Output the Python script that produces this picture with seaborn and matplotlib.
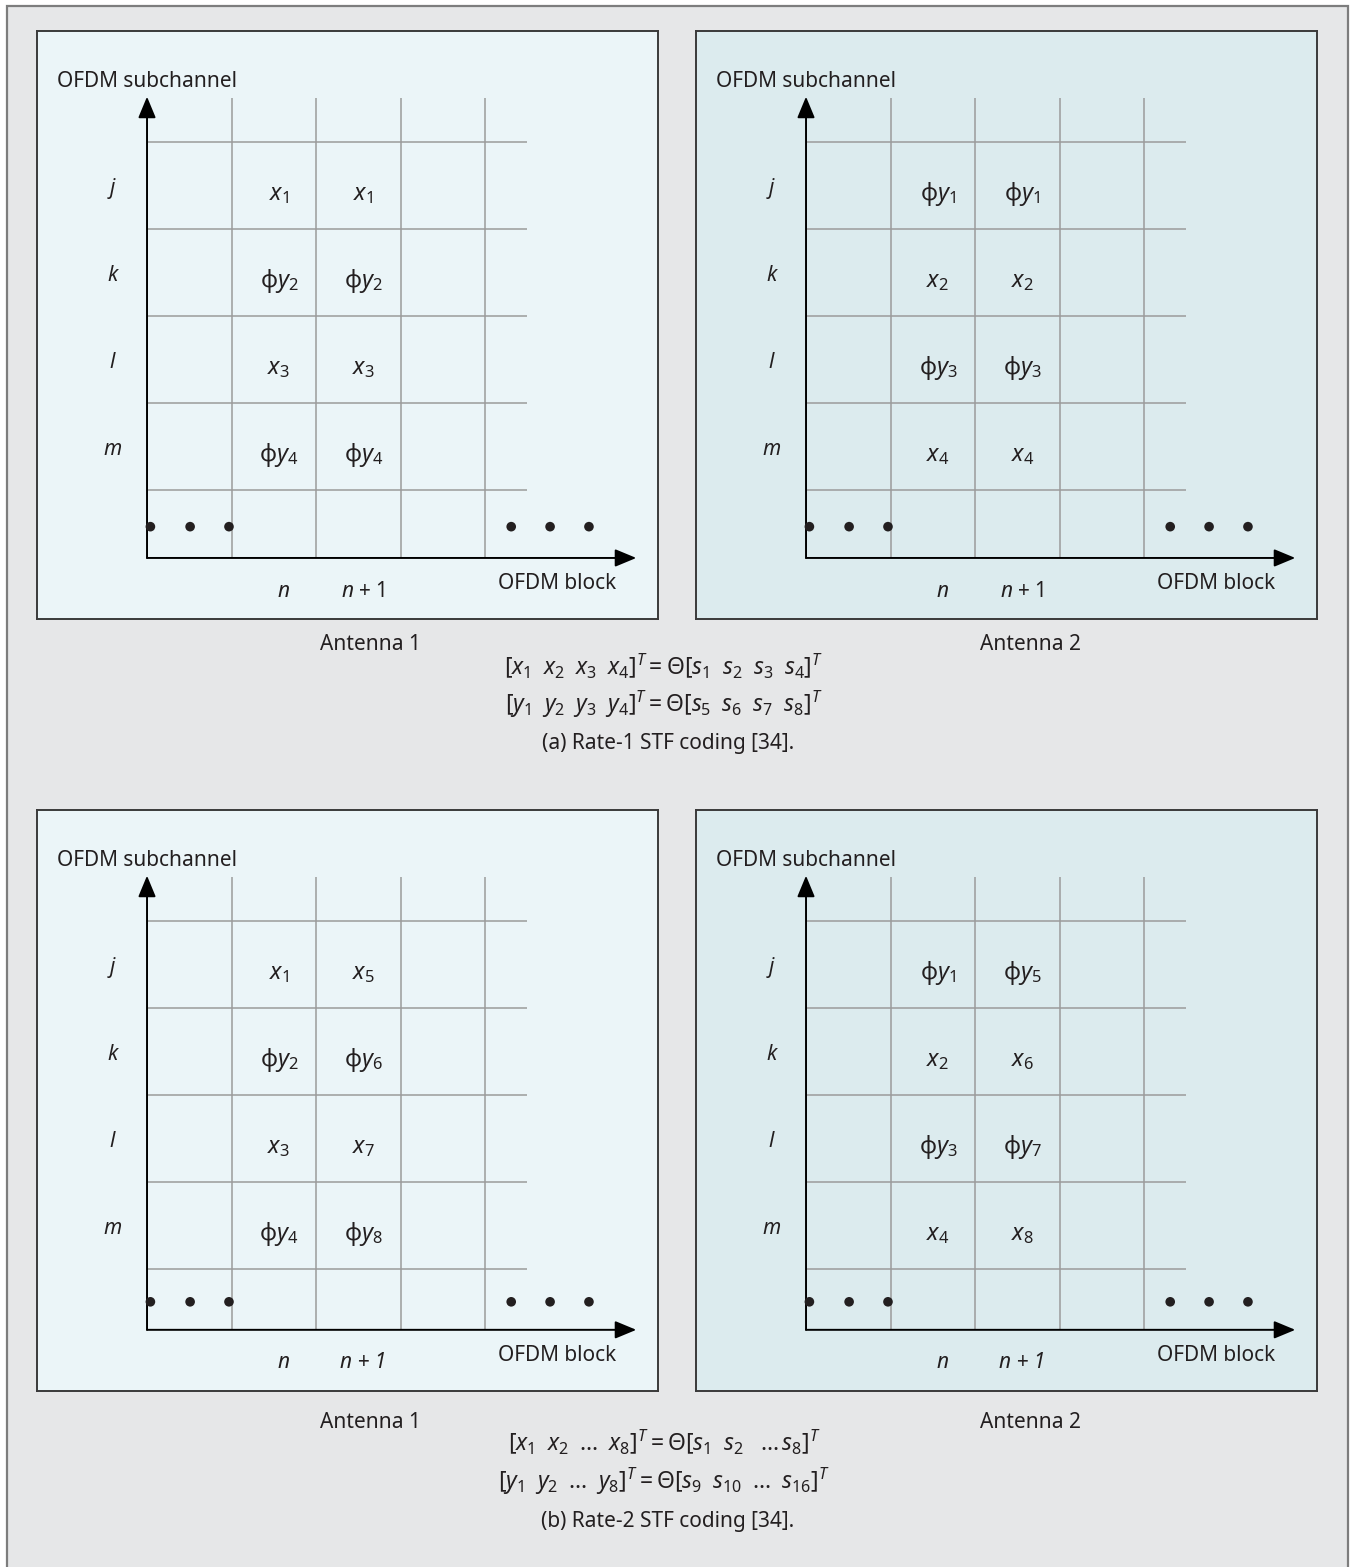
import numpy as np
import pandas as pd
import matplotlib
matplotlib.use('Agg')
import matplotlib.pyplot as plt
from matplotlib.patches import Rectangle
import seaborn as sns

sns.set_theme(style='white')
plt.rcParams['font.family'] = ['Noto Sans', 'DejaVu Sans']
plt.rcParams['mathtext.fontset'] = 'custom'
plt.rcParams['mathtext.rm'] = 'Noto Sans'
plt.rcParams['mathtext.it'] = 'Noto Sans:italic'
plt.rcParams['mathtext.bf'] = 'Noto Sans:bold'

# chart content
row_labels = ['j', 'k', 'l', 'm']
block_labels_a = ['$n$', '$n$ + 1']
block_labels_b = ['n', 'n + 1']

a_ant1_n = [r'$x_1$', r'$\mathrm{\phi}y_2$', r'$x_3$', r'$\mathrm{\phi}y_4$']
a_ant1_n1 = [r'$x_1$', r'$\mathrm{\phi}y_2$', r'$x_3$', r'$\mathrm{\phi}y_4$']
a_ant2_n = [r'$\mathrm{\phi}y_1$', r'$x_2$', r'$\mathrm{\phi}y_3$', r'$x_4$']
a_ant2_n1 = [r'$\mathrm{\phi}y_1$', r'$x_2$', r'$\mathrm{\phi}y_3$', r'$x_4$']

b_ant1_n = [r'$x_1$', r'$\mathrm{\phi}y_2$', r'$x_3$', r'$\mathrm{\phi}y_4$']
b_ant1_n1 = [r'$x_5$', r'$\mathrm{\phi}y_6$', r'$x_7$', r'$\mathrm{\phi}y_8$']
b_ant2_n = [r'$\mathrm{\phi}y_1$', r'$x_2$', r'$\mathrm{\phi}y_3$', r'$x_4$']
b_ant2_n1 = [r'$\mathrm{\phi}y_5$', r'$x_6$', r'$\mathrm{\phi}y_7$', r'$x_8$']

eq_a = [r'$[x_1\;\;x_2\;\;x_3\;\;x_4]^T = \Theta[s_1\;\;s_2\;\;s_3\;\;s_4]^T$',
        r'$[y_1\;\;y_2\;\;y_3\;\;y_4]^T = \Theta[s_5\;\;s_6\;\;s_7\;\;s_8]^T$']
eq_b = [r'$[x_1\;\;x_2\;\;\ldots\;\;x_8]^T = \Theta[s_1\;\;s_2\;\;\;\ldots\,s_8]^T$',
        r'$[y_1\;\;y_2\;\;\ldots\;\;y_8]^T = \Theta[s_9\;\;s_{10}\;\;\ldots\;\;s_{16}]^T$']
caption_a = '(a) Rate-1 STF coding [34].'
caption_b = '(b) Rate-2 STF coding [34].'
antennas = ['Antenna 1', 'Antenna 2']

dot_x = [0.04, 0.51, 0.97, 4.31, 4.77, 5.23]

W, H = 1358, 1567
fig = plt.figure(figsize=(W / 100, H / 100), dpi=100)
fig.patch.set_facecolor('white')
fig.add_artist(Rectangle((7 / W, -0.01), (1348 - 7) / W, 1.01 - 6 / H,
                         transform=fig.transFigure, facecolor='#e6e7e8',
                         edgecolor='#7d7d7d', lw=1.6, zorder=0))

grid_c = '#9b9b9b'
ink = '#231f20'
FS = 15
FS_CELL = 17
FS_EQ = 16.5


def panel(left_px, top_px, base, col_n, col_n1, blocks, italic_blocks, bg):
    x0, x1 = -1.302, 6.047
    y0, y1 = -0.70, base + 5.275
    wpx = (x1 - x0) * 84.5
    hpx = (y1 - y0) * 87
    ax = fig.add_axes([left_px / W, 1 - (top_px + hpx) / H, wpx / W, hpx / H])
    ax.set_facecolor(bg)
    ax.set_xlim(x0, x1)
    ax.set_ylim(y0, y1)
    ax.set_xticks([])
    ax.set_yticks([])
    for s in ax.spines.values():
        s.set_color('#3a3a3a')
        s.set_linewidth(1.4)

    ax.hlines(base + np.arange(5), 0, 4.5, color=grid_c, lw=1.1)
    ax.vlines([1, 2, 3, 4], 0, base + 4.5, color=grid_c, lw=1.1)

    arrow = dict(arrowstyle='-|>,head_length=0.65,head_width=0.27',
                 color='black', lw=1.4, shrinkA=0, shrinkB=0, mutation_scale=20)
    ax.annotate('', xy=(5.79, 0), xytext=(0, 0), arrowprops=arrow)
    ax.annotate('', xy=(0, base + 4.52), xytext=(0, 0), arrowprops=arrow)

    sns.scatterplot(x=dot_x, y=[base * 0.46] * len(dot_x), ax=ax, color=ink,
                    s=48, edgecolor='none', zorder=5, legend=False)

    for i in range(4):
        yc = base + 3.5 - i
        ax.text(-0.41, yc - 0.03, row_labels[i], style='italic', fontsize=FS,
                ha='center', va='center', color=ink)
        ax.text(1.56, yc - 0.17, col_n[i], fontsize=FS_CELL, ha='center',
                va='baseline', color=ink)
        ax.text(2.56, yc - 0.17, col_n1[i], fontsize=FS_CELL, ha='center',
                va='baseline', color=ink)

    st = 'italic' if italic_blocks else 'normal'
    ax.text(1.62, -0.38, blocks[0], fontsize=FS, ha='center', va='center',
            color=ink, style=st)
    ax.text(2.56, -0.38, blocks[1], fontsize=FS, ha='center', va='center',
            color=ink, style=st)
    ax.text(4.85, -0.29, 'OFDM block', fontsize=FS, ha='center',
            va='center', color=ink)
    ax.text(0, base + 4.69, 'OFDM subchannel', fontsize=FS, ha='center',
            va='center', color=ink)
    return ax


bg1, bg2 = '#ebf5f8', '#dcebee'
panel(37, 31, 0.782, a_ant1_n, a_ant1_n1, block_labels_a, False, bg1)
panel(696, 31, 0.782, a_ant2_n, a_ant2_n1, block_labels_a, False, bg2)
panel(37, 810, 0.70, b_ant1_n, b_ant1_n1, block_labels_b, True, bg1)
panel(696, 810, 0.70, b_ant2_n, b_ant2_n1, block_labels_b, True, bg2)


def ftext(x, y, s, size=FS):
    fig.text(x / W, 1 - y / H, s, fontsize=size, ha='center', va='center',
             color=ink)


for top, eqs, cap in [(0, eq_a, caption_a), (777, eq_b, caption_b)]:
    ftext(370, 645 + top, antennas[0])
    ftext(1030, 645 + top, antennas[1])
    ftext(664, 665 + top, eqs[0], FS_EQ)
    ftext(664, 704 + top, eqs[1], FS_EQ)
    ftext(668, 744 + top, cap)

fig.savefig('out.png', dpi=100)
